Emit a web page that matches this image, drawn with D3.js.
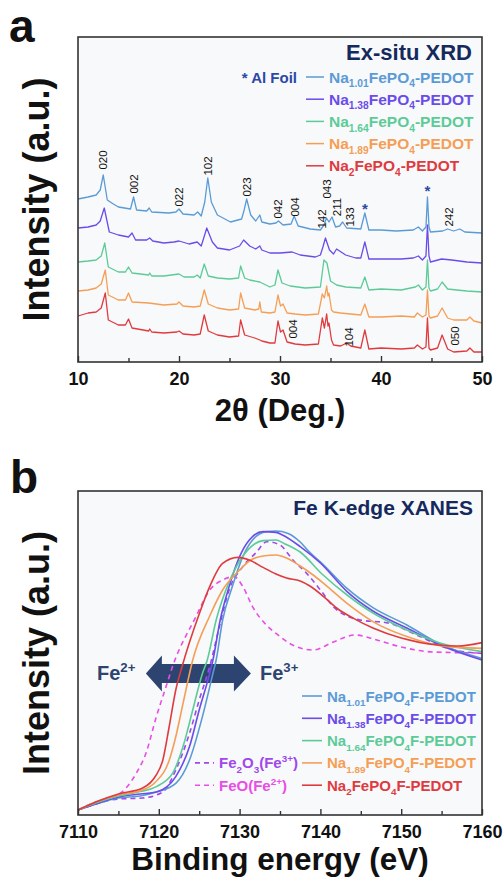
<!DOCTYPE html>
<html>
<head>
<meta charset="utf-8">
<script src="https://cdn.jsdelivr.net/npm/d3@7"></script>
<style>
  body { margin: 0; background: #fff; }
  svg text { font-family: "Liberation Sans", Arial, Helvetica, sans-serif; font-weight: bold; }
</style>
</head>
<body>
<div id="chart"></div>
<script>
// ---------- panel a : ex-situ XRD (2theta, stacked intensity a.u.) ----------
var xrdNames = ['Na_{1.01}FePO_{4}-PEDOT', 'Na_{1.38}FePO_{4}-PEDOT', 'Na_{1.64}FePO_{4}-PEDOT',
                'Na_{1.89}FePO_{4}-PEDOT', 'Na_{2}FePO_{4}-PEDOT'];

var xrd101 = [[10,163],[11,165],[11.8,167],[12.2,172],[12.5,187],[12.9,162],[13.5,158],[14,155],[15.2,153],[15.5,165],
  [15.8,152],[16.8,151],[17.05,154],[17.3,150],[19,149],[19.7,150],[20,153],[20.4,148],[21.5,147],[21.85,150],[22.2,146],
  [22.55,160],[22.85,184],[23.2,160],[23.8,147],[25.1,140],[26.2,143],[26.45,152],[26.7,163],[27.1,147],[27.6,141],[28,147],
  [28.2,140],[29,138],[29.6,139],[29.85,141],[30.3,137],[31.1,138],[31.4,146],[31.8,136],[33,133],[34,132],[34.35,137],[34.6,144],
  [34.85,140],[35.15,145],[35.5,135],[35.9,136],[36.2,140],[36.6,134],[38,133],[38.4,149],[38.8,132],[40,132],[41.5,131],
  [43.2,132],[43.7,135],[44.1,131],[44.45,135],[44.6,165],[44.75,135],[44.9,130],[46.1,131],[46.6,133],[47.2,131],[47.8,133],
  [48.3,130],[50,129]];

var xrd138 = [[10,134],[11,135],[11.8,137],[12.2,141],[12.6,154],[13.1,130],[14,127],[15,125],[15.35,129],[15.7,122],
  [16.8,122],[17.1,124],[17.4,121],[18.5,119],[19.5,120],[20,121],[21,118],[21.8,120],[22.2,116],[22.45,124],[22.75,134],
  [23.3,120],[23.8,114],[25,112],[26,116],[26.4,122],[27,116],[27.6,113],[28,116],[28.2,112],[29,109],[30,109],[31.2,110],
  [32,107],[33.5,105],[34,107],[34.25,115],[34.5,124],[34.9,112],[35.3,108],[35.6,113],[36.5,107],[37.5,104],[38,104],
  [38.4,120],[38.8,103],[40,103],[42,103],[43.2,104],[43.7,106],[44.1,102],[44.45,106],[44.6,137],[44.75,106],[44.9,100],
  [46,103],[47,102],[48.5,100],[50,99]];

var xrd164 = [[10,100],[11,101],[11.8,102],[12.3,106],[12.65,119],[13,95],[14,90],[14.7,90],[15,95],[15.35,89],[17,87],
  [17.1,89],[17.3,86],[18.5,86],[20,88],[20.5,85],[21.5,85],[21.8,87],[22.1,84],[22.5,98],[22.9,86],[23.8,84],[25,83],
  [25.9,84],[26.1,96],[26.5,84],[27,82],[28,80],[29,75],[29.5,77],[29.8,92],[30.2,79],[31,76],[32.5,74],[34,75],[34.35,102],
  [34.65,99],[35,81],[35.6,77],[36.5,75],[38,74],[38.4,85],[38.8,72],[40,73],[42,72],[43.4,75],[43.7,77],[44.1,72],
  [44.45,75],[44.6,102],[44.75,74],[44.9,71],[45.6,73],[46.05,80],[46.6,73],[47.5,72],[48.5,71],[50,70]];

var xrd189 = [[10,71],[11,72],[11.8,74],[12.3,78],[12.7,92],[13,67],[14,62],[14.7,62],[15,69],[15.35,60],[17,59],[18.5,57],
  [19.8,58],[20,60],[20.4,56],[21.5,55],[22.1,56],[22.5,72],[22.9,58],[23.8,54],[25,52],[25.9,53],[26.1,69],[26.5,54],
  [27.5,52],[27.9,53],[28,60],[28.15,50],[29,49],[29.5,50],[29.8,67],[30.05,56],[30.3,58],[30.7,49],[31.5,48],[32.5,47],
  [33.8,48],[34.19,68],[34.4,64],[34.62,76],[34.75,66],[34.85,69],[35.1,52],[35.3,50],[36,49],[37,48],[38,47],[38.4,58],
  [38.8,45],[40,45],[42,46],[43.3,45],[43.6,49],[44.1,45],[44.45,47],[44.6,72],[44.75,46],[44.9,44],[45.6,46],[46.05,54],
  [46.6,44],[47.2,42],[48.5,42],[48.8,45],[49.2,41],[50,39]];

var xrd200 = [[10,46],[11,49],[11.8,50],[12.3,54],[12.7,69],[13,42],[14,37],[14.7,37],[15,43],[15.35,34],[17,31],[17.1,33],
  [17.3,30],[18.5,29],[19.8,30],[20,31],[20.4,28],[21.5,27],[22.1,28],[22.5,47],[22.9,31],[23.8,27],[25,25],[25.9,26],
  [26.1,42],[26.5,27],[27.5,24],[28,22],[28.2,21],[29,19],[29.5,19],[29.8,41],[30.05,30],[30.3,32],[30.7,20],[31.5,18],
  [32.5,17],[33.8,18],[34.19,44],[34.4,34],[34.62,48],[34.75,36],[34.85,39],[35.1,22],[35.3,17],[36,16],[36.6,19],[37,16],
  [38,14],[38.4,32],[38.8,13],[40,14],[42,13],[43.3,14],[43.6,17],[44.1,13],[44.45,15],[44.6,44],[44.75,14],[44.9,12],
  [45.6,14],[46.05,27],[46.6,13],[47.2,10],[48.5,11],[48.8,14],[49.2,10],[50,10]];

var xrdSeries = [xrd101, xrd138, xrd164, xrd189, xrd200];

// reflection labels: [2theta, label, intensity at label centre]
var hklLabels = [[12.5,'020',202],[15.55,'002',178],[20,'022',165],[22.9,'102',196],[26.75,'023',175],[29.8,'042',153],
  [31.5,'004',155],[34.1,'142',143],[34.6,'043',173],[35.6,'211',155],[36.9,'133',145],[46.75,'242',145],
  [31.3,'004',33],[36.8,'104',25],[47.3,'050',26]];
var alMarks = [[38.4,155],[44.6,173]];

var xTicksA = [10, 20, 30, 40, 50];
var xMinorA = [15, 25, 35, 45];

// ---------- panel b : Fe K-edge XANES (energy eV, normalised absorption) ----------
var xanesNames = ['Na_{1.01}FePO_{4}F-PEDOT', 'Na_{1.38}FePO_{4}F-PEDOT', 'Na_{1.64}FePO_{4}F-PEDOT',
                  'Na_{1.89}FePO_{4}F-PEDOT', 'Na_{2}FePO_{4}F-PEDOT'];
var refNames = ['Fe_{2}O_{3}(Fe^{3+})', 'FeO(Fe^{2+})'];

var xanes101 = [[7110,0],[7112.2,0.03],[7115,0.06],[7117.7,0.07],[7119.7,0.09],[7122.1,0.133],[7123.8,0.25],[7125.4,0.467],
  [7126.7,0.683],[7127.1,0.75],[7127.9,0.95],[7129.1,1.117],[7130.4,1.267],[7131.6,1.35],[7133.3,1.392],[7134.5,1.395],
  [7136,1.383],[7137.5,1.34],[7138.4,1.3],[7140.4,1.225],[7143.3,1.108],[7146.5,1.012],[7150.7,0.925],[7154.8,0.83],[7160,0.758]];
var xanes138 = [[7110,0],[7112.2,0.03],[7115,0.065],[7117.7,0.08],[7119.7,0.09],[7122.1,0.167],[7123.8,0.317],[7125,0.5],
  [7126.3,0.683],[7126.7,0.75],[7127.6,0.95],[7128.7,1.117],[7130,1.267],[7131.2,1.35],[7132.9,1.392],[7134.5,1.388],
  [7135.3,1.375],[7137.5,1.317],[7140,1.235],[7143.3,1.092],[7146.5,0.995],[7150.7,0.91],[7154.8,0.825],[7160,0.75]];
var xanes164 = [[7110,0],[7112.2,0.035],[7115,0.07],[7117.7,0.092],[7119.7,0.117],[7121.7,0.183],[7123,0.317],[7124.2,0.5],
  [7125.4,0.683],[7126,0.75],[7127.1,0.95],[7128.3,1.1],[7129.6,1.217],[7131.2,1.308],[7132.9,1.347],[7134.5,1.35],
  [7135.5,1.333],[7137.5,1.29],[7140.2,1.18],[7143.3,1.075],[7146.5,0.985],[7150.7,0.9],[7154.8,0.835],[7160,0.792]];
var xanes189 = [[7110,0],[7112.2,0.04],[7115,0.075],[7118,0.1],[7119.6,0.14],[7121.3,0.25],[7122.1,0.366],[7123,0.533],
  [7124.2,0.75],[7126.3,0.97],[7127.9,1.1],[7130,1.2],[7131.2,1.245],[7132.9,1.27],[7134.5,1.275],[7135.8,1.26],
  [7137.5,1.22],[7139.1,1.175],[7140.4,1.133],[7143.3,1.033],[7146.5,0.942],[7150.7,0.867],[7154.8,0.822],[7160,0.808]];
var xanes200 = [[7110,0],[7112.2,0.04],[7115,0.08],[7118,0.11],[7119.6,0.17],[7120.5,0.25],[7121.3,0.42],[7122.1,0.6],
  [7122.9,0.72],[7125,0.98],[7126.3,1.117],[7127.9,1.233],[7129.8,1.263],[7131.2,1.25],[7132.9,1.213],[7134.5,1.18],
  [7135.8,1.16],[7137.5,1.145],[7138.7,1.12],[7140.4,1.067],[7142,1.01],[7144.1,0.958],[7146.5,0.91],[7150,0.86],
  [7154.5,0.825],[7157,0.82],[7160,0.837]];
var xanesFe2O3 = [[7110,0],[7112.2,0.03],[7115,0.055],[7118,0.06],[7120.5,0.09],[7122.1,0.2],[7123.8,0.383],[7125,0.55],
  [7126.3,0.717],[7127.5,0.917],[7128.7,1.1],[7130.4,1.217],[7132,1.285],[7133.4,1.342],[7135,1.325],[7136.6,1.25],
  [7138.3,1.183],[7140,1.1],[7141.6,1.017],[7144.7,0.952],[7148.6,0.933],[7151.5,0.883],[7155.6,0.81],[7160,0.783]];
var xanesFeO = [[7110,0],[7112.2,0.04],[7114.5,0.065],[7115.9,0.108],[7117.2,0.183],[7118.4,0.283],[7119.7,0.467],
  [7120.9,0.617],[7121.7,0.717],[7124.6,0.967],[7126.3,1.1],[7127.9,1.15],[7129.3,1.167],[7130.4,1.117],[7131.6,1.017],
  [7133.3,0.925],[7134.5,0.883],[7136.2,0.833],[7139.1,0.8],[7141.6,0.84],[7144.3,0.875],[7147,0.85],[7150,0.815],
  [7154,0.79],[7160,0.785]];

var xanesSeries = [xanes101, xanes138, xanes164, xanes189, xanes200];
var refSeries = [xanesFe2O3, xanesFeO];
var arrowRange = [7118.4, 7131.4];
var arrowLevel = 0.683;

var xTicksB = [7110, 7120, 7130, 7140, 7150, 7160];
var xMinorB = [7115, 7125, 7135, 7145, 7155];

// colours
var seriesColors = ['#5b9bd5', '#6a4ce8', '#5ccb98', '#f59e55', '#df3b3f'];
var refColors = ['#a047ee', '#e84ee6'];
var navy = '#15295c';

// ---------- drawing ----------
var width = 504, height = 882;

var svg = d3.select('#chart')
            .append('svg')
            .attr('width', width)
            .attr('height', height);

// writes "Na_{1.01}" style strings with sub/superscripts as tspans
function richText(sel, str, size) {
  var parts = str.split(/([_^]\{[^}]*\})/).filter(function(s) { return s.length; });
  var shift = 0;
  parts.forEach(function(p) {
    var target = 0, fs = size, txt = p;
    if (p[0] === '_') { target = size * 0.3; fs = size * 0.66; txt = p.slice(2, -1); }
    else if (p[0] === '^') { target = -size * 0.4; fs = size * 0.66; txt = p.slice(2, -1); }
    sel.append('tspan')
       .attr('dy', target - shift)
       .style('font-size', fs + 'px')
       .text(txt);
    shift = target;
  });
}

function frame(x, y) {
  var r = y.range();
  svg.append('rect')
     .attr('x', x.range()[0]).attr('y', r[1])
     .attr('width', x.range()[1] - x.range()[0])
     .attr('height', r[0] - r[1])
     .attr('fill', '#f8f9fa');
}

function axes(x, y, major, minor) {
  var y0 = y.range()[0];
  var ax = d3.axisBottom(x).tickValues(major).tickFormat(d3.format('d'))
             .tickSizeInner(-6).tickSizeOuter(0).tickPadding(10);
  var g = svg.append('g').attr('transform', 'translate(0,' + y0 + ')').call(ax);
  g.select('.domain').remove();
  g.selectAll('line').attr('stroke', '#333').attr('stroke-width', 1.4);
  g.selectAll('text').style('font-size', '18px').attr('fill', '#111');
  var mx = d3.axisBottom(x).tickValues(minor).tickSizeInner(-4).tickSizeOuter(0).tickFormat('');
  var m = svg.append('g').attr('transform', 'translate(0,' + y0 + ')').call(mx);
  m.select('.domain').remove();
  m.selectAll('line').attr('stroke', '#333').attr('stroke-width', 1.4);
  svg.append('rect')
     .attr('x', x.range()[0]).attr('y', y.range()[1])
     .attr('width', x.range()[1] - x.range()[0])
     .attr('height', y.range()[0] - y.range()[1])
     .attr('fill', 'none')
     .attr('stroke', '#333')
     .attr('stroke-width', 1.6);
}

function yTitle(y) {
  var cy = (y.range()[0] + y.range()[1]) / 2;
  svg.append('text')
     .attr('transform', 'translate(49,' + cy + ') rotate(-90)')
     .attr('text-anchor', 'middle')
     .style('font-size', '36px')
     .attr('fill', '#111')
     .text('Intensity (a.u.)');
}

// ----- panel a -----
var xa = d3.scaleLinear().domain([10, 50]).range([78, 482]);
var ya = d3.scaleLinear().domain([0, 325]).range([362, 37]);

frame(xa, ya);

var lineA = d3.line()
              .x(function(d) { return xa(d[0]); })
              .y(function(d) { return ya(d[1]); });

xrdSeries.forEach(function(s, i) {
  svg.append('path')
     .attr('d', lineA(s))
     .attr('fill', 'none')
     .attr('stroke', seriesColors[i])
     .attr('stroke-width', 1.3)
     .attr('stroke-linejoin', 'round');
});

hklLabels.forEach(function(d) {
  svg.append('text')
     .attr('transform', 'translate(' + xa(d[0]) + ',' + ya(d[2]) + ') rotate(-90)')
     .attr('text-anchor', 'middle')
     .attr('dy', '0.36em')
     .style('font-size', '11.5px')
     .style('font-weight', 'normal')
     .attr('fill', '#111')
     .text(d[1]);
});

alMarks.forEach(function(d) {
  svg.append('text')
     .attr('x', xa(d[0])).attr('y', ya(d[1]) + 7)
     .attr('text-anchor', 'middle')
     .style('font-size', '15px')
     .attr('fill', '#2b48a6')
     .text('*');
});

axes(xa, ya, xTicksA, xMinorA);
yTitle(ya);

svg.append('text')
   .attr('x', 280).attr('y', 421)
   .attr('text-anchor', 'middle')
   .style('font-size', '31px')
   .attr('fill', '#111')
   .text('2\u03b8 (Deg.)');

svg.append('text').attr('x', 9).attr('y', 42).style('font-size', '46px').attr('fill', '#111').text('a');

svg.append('text')
   .attr('x', 472).attr('y', 60)
   .attr('text-anchor', 'end')
   .style('font-size', '22px')
   .attr('fill', navy)
   .text('Ex-situ XRD');

svg.append('text')
   .attr('x', 297).attr('y', 83)
   .attr('text-anchor', 'end')
   .style('font-size', '15px')
   .attr('fill', '#2b48a6')
   .text('* Al Foil');

xrdNames.forEach(function(n, i) {
  var cy = 77 + i * 22.2;
  svg.append('line')
     .attr('x1', 306).attr('x2', 324).attr('y1', cy).attr('y2', cy)
     .attr('stroke', seriesColors[i]).attr('stroke-width', 1.5);
  var t = svg.append('text')
             .attr('x', 329).attr('y', cy + 5.5)
             .attr('fill', seriesColors[i]);
  richText(t, n, 15.5);
});

// ----- panel b -----
var xb = d3.scaleLinear().domain([7110, 7160]).range([78, 482]);
var yb = d3.scaleLinear().domain([-0.025, 1.595]).range([815, 491]);

frame(xb, yb);

// Fe2+ <-> Fe3+ double arrow
var ax0 = xb(arrowRange[0]), ax1 = xb(arrowRange[1]), ay = yb(arrowLevel);
var arrowPts = [[ax0, ay], [ax0 + 16, ay - 18], [ax0 + 16, ay - 9.5], [ax1 - 17, ay - 9.5], [ax1 - 17, ay - 18],
                [ax1, ay], [ax1 - 17, ay + 18], [ax1 - 17, ay + 9.5], [ax0 + 16, ay + 9.5], [ax0 + 16, ay + 18]];
svg.append('path')
   .attr('d', 'M' + arrowPts.join('L') + 'Z')
   .attr('fill', '#2e4470');

var fe2 = svg.append('text').attr('x', 97).attr('y', ay + 7).attr('fill', '#2e4470');
richText(fe2, 'Fe^{2+}', 20);
var fe3 = svg.append('text').attr('x', 260).attr('y', ay + 7).attr('fill', '#2e4470');
richText(fe3, 'Fe^{3+}', 20);

var lineB = d3.line()
              .curve(d3.curveMonotoneX)
              .x(function(d) { return xb(d[0]); })
              .y(function(d) { return yb(d[1]); });

refSeries.forEach(function(s, i) {
  svg.append('path')
     .attr('d', lineB(s))
     .attr('fill', 'none')
     .attr('stroke', refColors[i])
     .attr('stroke-width', 1.6)
     .attr('stroke-dasharray', '5,4');
});

xanesSeries.forEach(function(s, i) {
  svg.append('path')
     .attr('d', lineB(s))
     .attr('fill', 'none')
     .attr('stroke', seriesColors[i])
     .attr('stroke-width', 1.6);
});

axes(xb, yb, xTicksB, xMinorB);
yTitle(yb);

svg.append('text')
   .attr('x', 280).attr('y', 870)
   .attr('text-anchor', 'middle')
   .style('font-size', '31.5px')
   .attr('fill', '#111')
   .text('Binding energy (eV)');

svg.append('text').attr('x', 10).attr('y', 493).style('font-size', '46px').attr('fill', '#111').text('b');

svg.append('text')
   .attr('x', 473).attr('y', 515)
   .attr('text-anchor', 'end')
   .style('font-size', '21px')
   .attr('fill', navy)
   .text('Fe K-edge XANES');

xanesNames.forEach(function(n, i) {
  var cy = 696 + i * 22.3;
  svg.append('line')
     .attr('x1', 302).attr('x2', 322).attr('y1', cy).attr('y2', cy)
     .attr('stroke', seriesColors[i]).attr('stroke-width', 1.6);
  var t = svg.append('text')
             .attr('x', 327).attr('y', cy + 5.5)
             .attr('fill', seriesColors[i]);
  richText(t, n, 15);
});

refNames.forEach(function(n, i) {
  var cy = 696 + (i + 3) * 22.3;
  svg.append('line')
     .attr('x1', 195).attr('x2', 214).attr('y1', cy).attr('y2', cy)
     .attr('stroke', refColors[i]).attr('stroke-width', 1.6)
     .attr('stroke-dasharray', '5,4');
  var t = svg.append('text')
             .attr('x', 219).attr('y', cy + 5.5)
             .attr('fill', refColors[i]);
  richText(t, n, 15);
});
</script>
</body>
</html>
